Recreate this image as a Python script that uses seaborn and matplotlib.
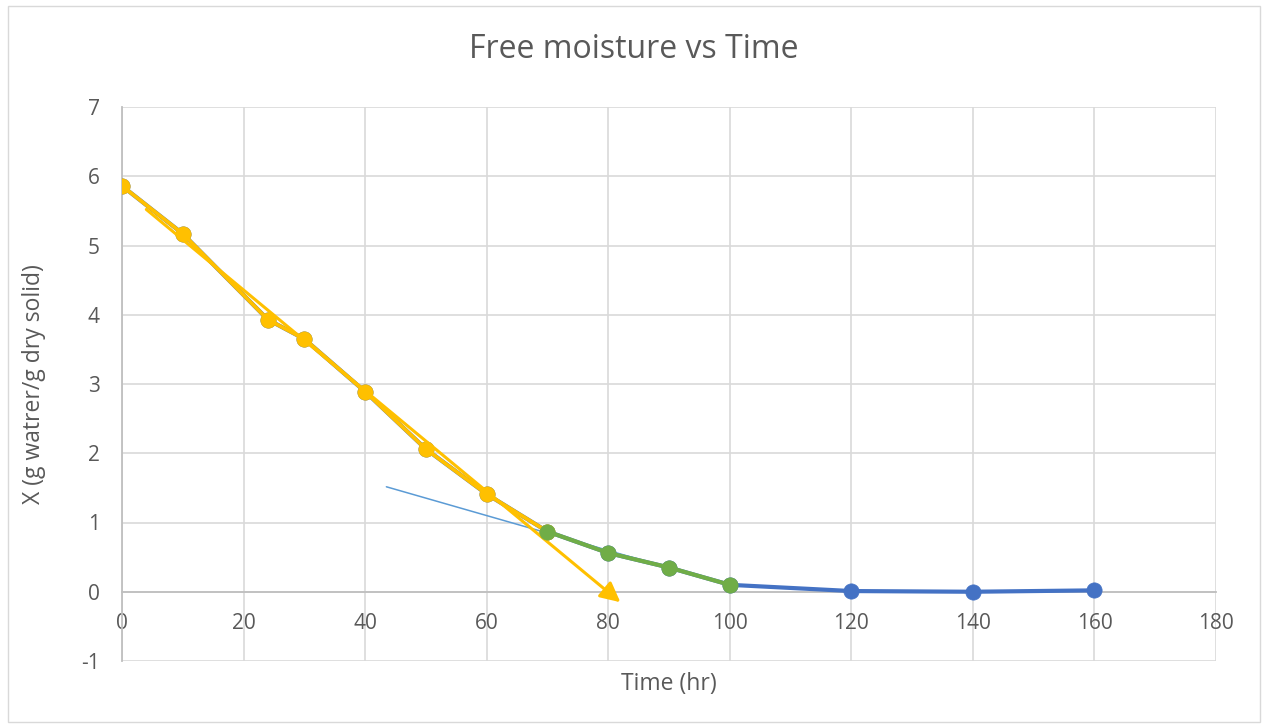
import numpy as np
import pandas as pd
import matplotlib
matplotlib.use("Agg")
import matplotlib.pyplot as plt
import seaborn as sns
from matplotlib.patches import Rectangle

# ---- data ----
time_all = [0, 10, 24, 30, 40, 50, 60, 70, 80, 90, 100, 120, 140, 160]
x_all = [5.86, 5.17, 3.93, 3.65, 2.89, 2.06, 1.41, 0.87, 0.56, 0.35, 0.10, 0.01, 0.00, 0.02]

time_const = [0, 10, 24, 30, 40, 50, 60, 70]
x_const = [5.86, 5.17, 3.93, 3.65, 2.89, 2.06, 1.41, 0.87]

time_fall = [70, 80, 90, 100]
x_fall = [0.87, 0.56, 0.35, 0.10]

trend_const_range = [4, 82]
trend_fall_range = [43.5, 100]

title = "Free moisture vs Time"
xlabel = "Time (hr)"
ylabel = "X (g watrer/g dry solid)"
xticks = [0, 20, 40, 60, 80, 100, 120, 140, 160, 180]
yticks = [-1, 0, 1, 2, 3, 4, 5, 6, 7]

BLUE = "#4472C4"
YELLOW = "#FFC000"
GREEN = "#70AD47"
LBLUE = "#5B9BD5"
TXT = "#595959"

sns.set_theme(style="white")
plt.rcParams['font.family'] = ['Open Sans', 'DejaVu Sans']
plt.rcParams['axes.unicode_minus'] = False

fig = plt.figure(figsize=(12.67, 7.28), dpi=100)
ax = fig.add_axes([122/1267, 1-661/728, (1216-122)/1267, (661-107)/728])

df_all = pd.DataFrame({"t": time_all, "x": x_all})
df_c = pd.DataFrame({"t": time_const, "x": x_const})
df_f = pd.DataFrame({"t": time_fall, "x": x_fall})

# blue full series
sns.lineplot(data=df_all, x="t", y="x", ax=ax, color=BLUE, lw=3, marker="o",
             markersize=11, markeredgecolor=BLUE, markeredgewidth=0.5,
             sort=False, zorder=3)

# falling-rate trendline (thin)
pf = np.polyfit(time_fall, x_fall, 1)
tf = np.array(trend_fall_range)
sns.lineplot(x=tf, y=np.polyval(pf, tf), ax=ax, color=LBLUE, lw=1.1, zorder=3.5)

# yellow constant-rate series
sns.lineplot(data=df_c, x="t", y="x", ax=ax, color=YELLOW, lw=2.8, marker="o",
             markersize=11, markeredgecolor=YELLOW, markeredgewidth=0.5,
             sort=False, zorder=4)

# constant-rate trendline with arrow
pc = np.polyfit(time_const, x_const, 1)
tc = np.array(trend_const_range)
yc = np.polyval(pc, tc)
ax.annotate("", xy=(tc[1], yc[1]), xytext=(tc[0], yc[0]),
            arrowprops=dict(arrowstyle="-|>,head_length=1.0,head_width=0.5",
                            color=YELLOW, lw=2.2, shrinkA=0, shrinkB=0),
            zorder=4.5)

# green falling-rate series
sns.lineplot(data=df_f, x="t", y="x", ax=ax, color=GREEN, lw=3, marker="o",
             markersize=11, markeredgecolor=GREEN, markeredgewidth=0.5,
             sort=False, zorder=5)

ax.set_xlim(0, 180)
ax.set_ylim(-1, 7)
ax.set_xticks(xticks)
ax.set_yticks(yticks)
ax.grid(True, color="#D9D9D9", lw=1.2)
ax.set_axisbelow(True)
for s in ["top", "right"]:
    ax.spines[s].set_visible(False)
ax.spines["bottom"].set_position(("data", 0))
ax.spines["bottom"].set_color("#BFBFBF")
ax.spines["left"].set_color("#BFBFBF")
ax.spines["bottom"].set_linewidth(1.3)
ax.spines["left"].set_linewidth(1.3)
ax.tick_params(axis="y", length=0, labelsize=15, labelcolor=TXT, pad=16)
ax.tick_params(axis="x", length=0, labelsize=15, labelcolor=TXT, pad=15)

ax.set_xlabel(xlabel, fontsize=16.5, color=TXT)
ax.set_ylabel(ylabel, fontsize=16.5, color=TXT)
ax.xaxis.set_label_coords(0.5, -0.041)
ax.xaxis.label.set_va("center")
ax.yaxis.set_label_coords(-0.080, 0.5)
ax.yaxis.label.set_va("center")

fig.text(0.5, 1-50/728, title, ha="center", va="center", fontsize=23, color=TXT)

fig.patches.append(Rectangle((8/1267, 1-722/728), 1252/1267, 716/728,
                             transform=fig.transFigure, fill=False,
                             edgecolor="#D9D9D9", lw=1))

fig.savefig("out.png", dpi=100)
